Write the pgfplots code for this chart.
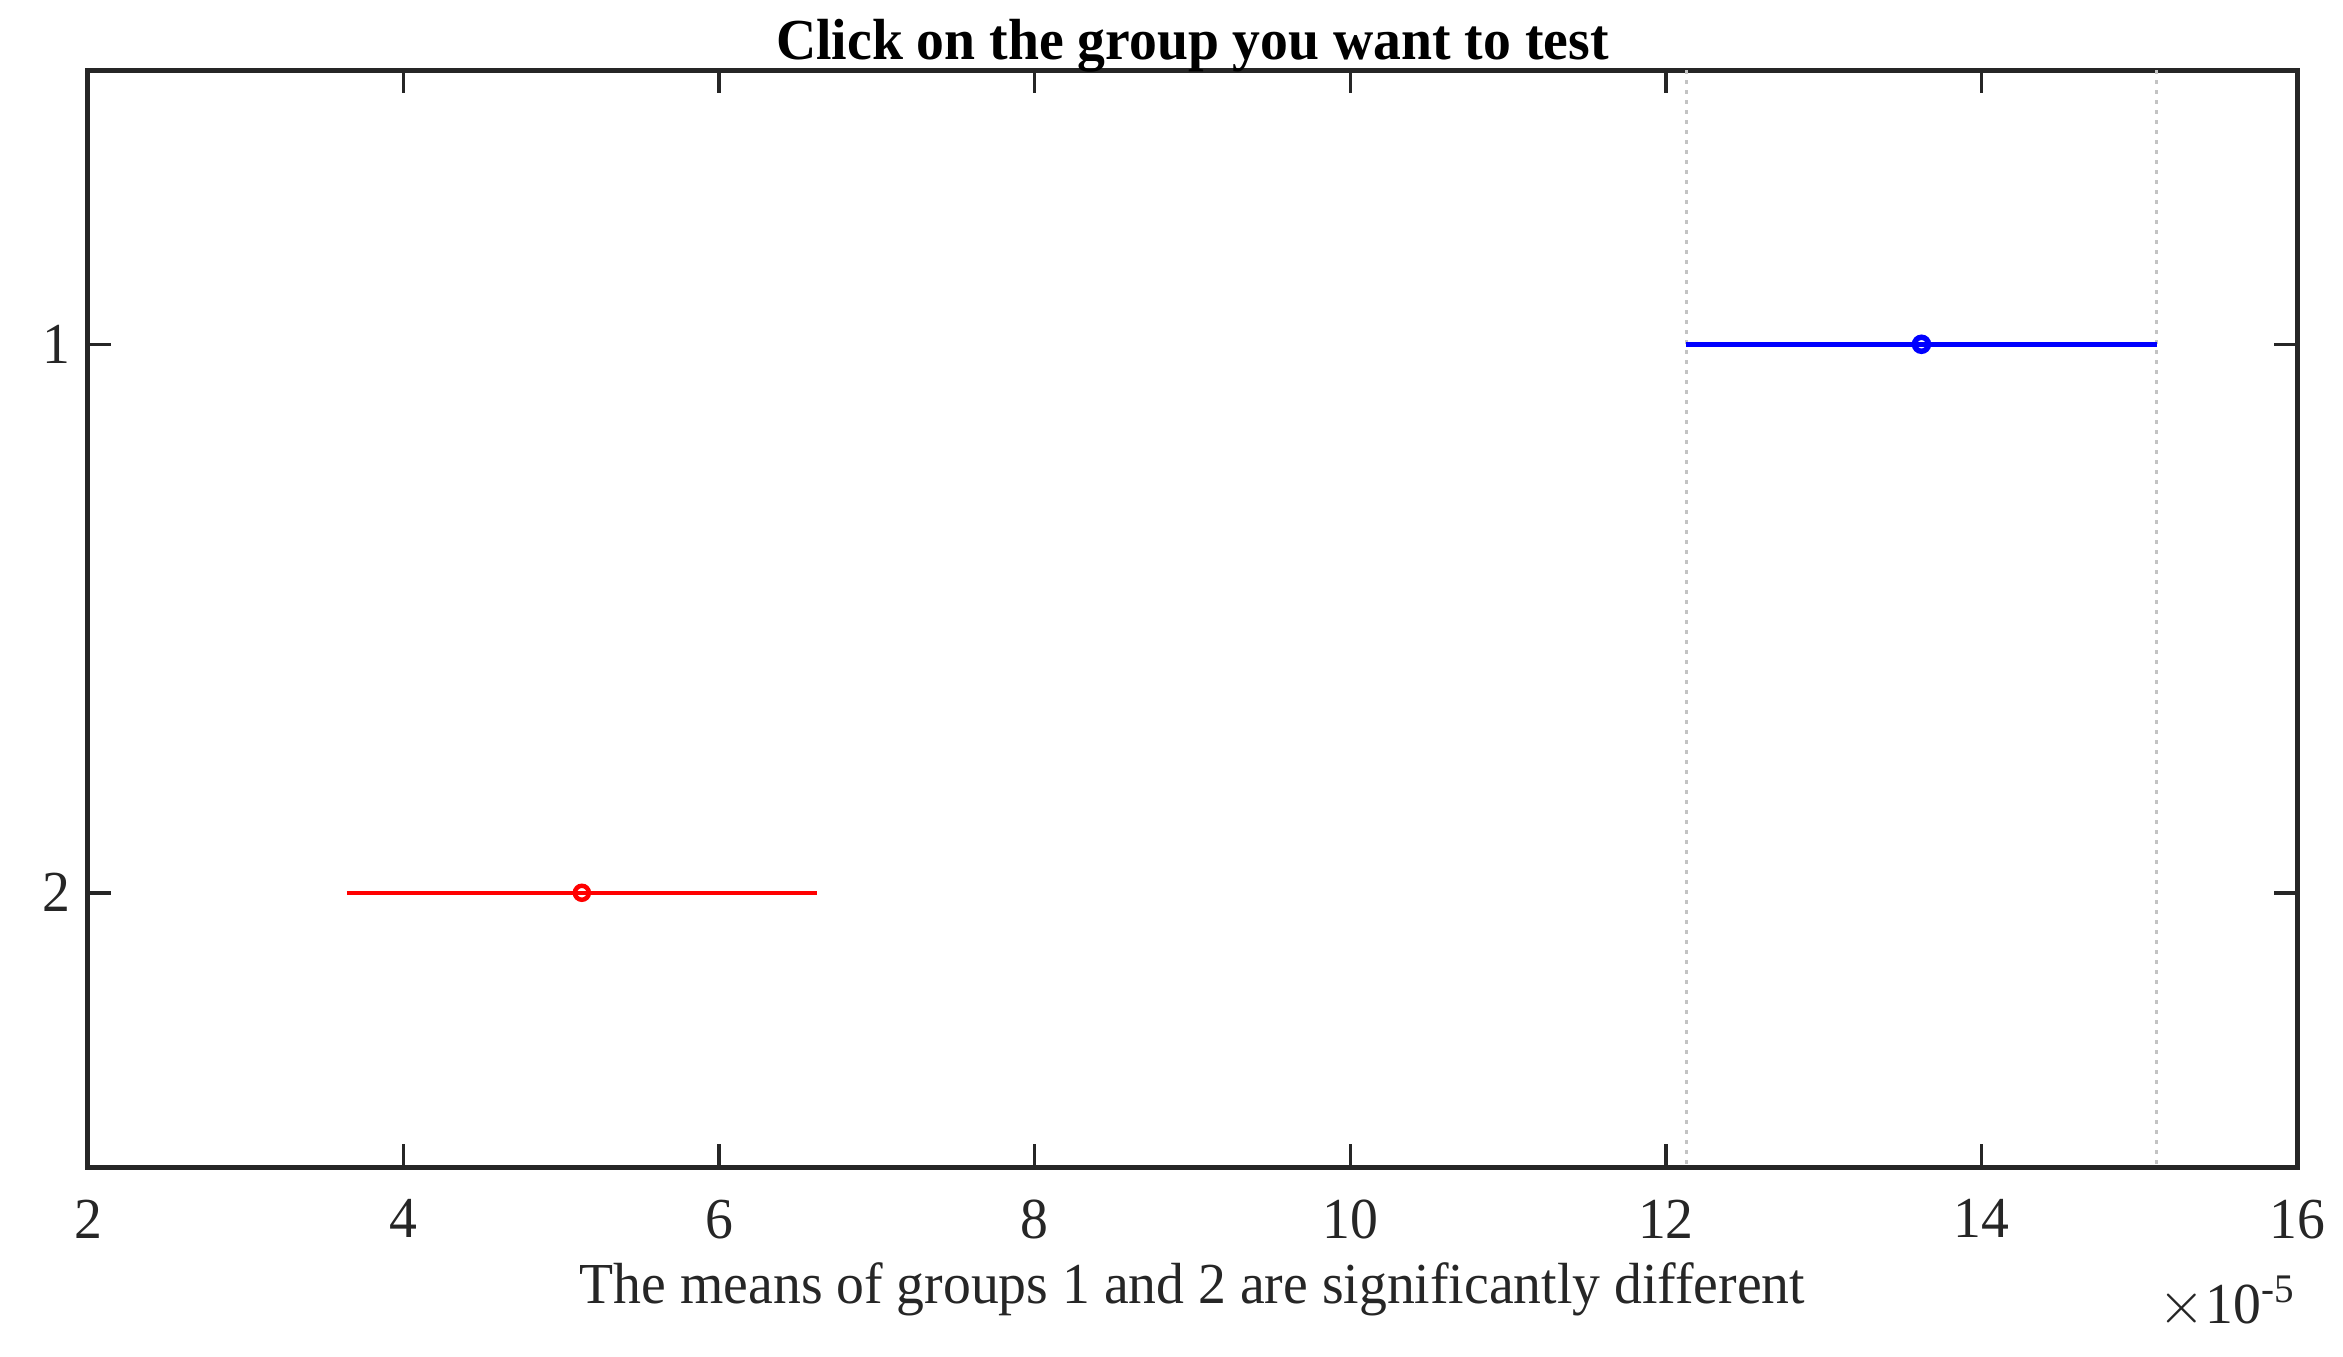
\documentclass[border=0pt]{standalone}
\usepackage{fontspec}
\setmainfont{Liberation Serif}[FakeStretch=0.96]
\usepackage{pgfplots}
\pgfplotsset{compat=1.18}
\definecolor{axisgray}{RGB}{38,38,38}
\definecolor{refgray}{RGB}{195,195,195}

\begin{document}
\begin{tikzpicture}
\begin{axis}[
  scale only axis,
  width=441.8pt, height=219.4pt,
  xmin=2, xmax=16, ymin=0.5, ymax=2.5,
  y dir=reverse,
  xtick={2,4,...,16}, ytick={1,2},
  tick align=inside,
  major tick length=4.6pt,
  axis line style={axisgray, line width=1pt},
  every tick/.style={axisgray, line width=0.7pt},
  tick label style={font=\fontsize{11.6}{14}\selectfont, text=axisgray},
  /pgf/number format/assume math mode=true,
  xticklabel style={yshift=-3pt},
  title={\textbf{Click on the group you want to test}},
  title style={font=\fontsize{11.6}{14}\selectfont, yshift=-10pt},
  xlabel={The means of groups 1 and 2 are significantly different},
  xlabel style={font=\fontsize{11.6}{14}\selectfont, text=axisgray, yshift=2pt},
  clip=false,
]
% comparison interval of the selected group (group 1)
\addplot[refgray, line width=0.7pt, dash pattern=on 0.8pt off 1.2pt]
  coordinates {(12.13,0.5) (12.13,2.5)};
\addplot[refgray, line width=0.7pt, dash pattern=on 0.8pt off 1.2pt]
  coordinates {(15.11,0.5) (15.11,2.5)};
% group 1 (blue), group 2 (red): lower, mean, upper
\addplot[blue, line width=1.1pt, mark=o, mark size=1.4pt, mark indices={2}]
  coordinates {(12.13,1) (13.62,1) (15.11,1)};
\addplot[red, line width=0.7pt, mark=o, mark size=1.4pt, mark indices={2},
  mark options={line width=0.9pt}]
  coordinates {(3.64,2) (5.13,2) (6.62,2)};
\node[anchor=north east, inner sep=0pt, text=axisgray,
  font=\fontsize{11.6}{14}\selectfont]
  at (rel axis cs:1,0) [yshift=-21.5pt] {$\times$10\textsuperscript{-5}};
\end{axis}
\pgfresetboundingbox
\path (current axis.south west) ++(-17.6pt,-37.8pt) coordinate (bl);
\path (current axis.north east) ++(9.2pt,14pt) coordinate (tr);
\path (bl) rectangle (tr);
\end{tikzpicture}
\end{document}
